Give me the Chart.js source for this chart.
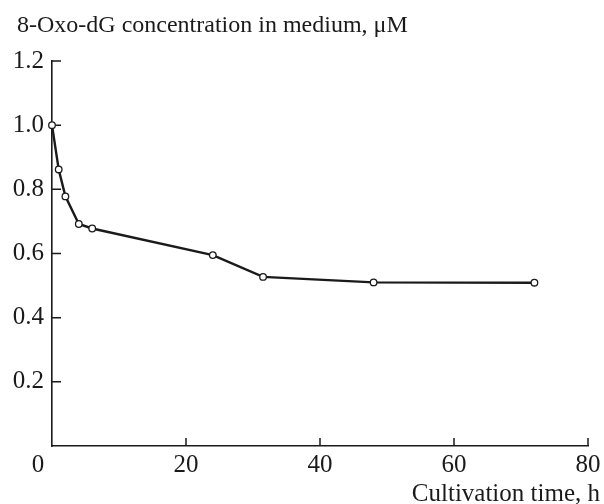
<!DOCTYPE html>
<html>
<head>
<meta charset="utf-8">
<title>8-Oxo-dG concentration</title>
<script src="https://cdn.jsdelivr.net/npm/chart.js@4.4.1/dist/chart.umd.min.js"></script>
<style>
    html, body { margin: 0; padding: 0; background: #fff; }
    .chart-wrap { position: relative; width: 604px; height: 504px; }
</style>
</head>
<body>
<div class="chart-wrap"><canvas id="oxoChart"></canvas></div>
<script>
// values
const timeHours = [0, 1, 2, 4, 6, 24, 31.5, 48, 72];
const oxoConc = [1.0, 0.862, 0.778, 0.692, 0.678, 0.595, 0.527, 0.51, 0.509];

const xTickValues = [0, 20, 40, 60, 80];
const yTickValues = [0, 0.2, 0.4, 0.6, 0.8, 1.0, 1.2];

const yAxisTitle = '8-Oxo-dG concentration in medium, \u03BCM';
const xAxisTitle = 'Cultivation time, h';

const INK = '#1a1a1a';
const FONT = "'Liberation Serif', 'Times New Roman', serif";

// inward tick marks, drawn under the points
const axisTicks = {
    id: 'axisTicks',
    beforeDatasetsDraw(chart) {
        const { ctx, chartArea, scales } = chart;
        ctx.save();
        ctx.strokeStyle = INK;
        ctx.lineWidth = 1.5;
        ctx.beginPath();
        yTickValues.forEach(v => {
            if (v === 0) return;
            const py = scales.y.getPixelForValue(v);
            ctx.moveTo(chartArea.left, py);
            ctx.lineTo(chartArea.left + 9, py);
        });
        xTickValues.forEach(v => {
            if (v === 0) return;
            const px = scales.x.getPixelForValue(v);
            ctx.moveTo(px, chartArea.bottom);
            ctx.lineTo(px, chartArea.bottom - 8);
        });
        ctx.stroke();
        ctx.restore();
    },
    afterDraw(chart) {
        const { ctx, chartArea, scales } = chart;
        ctx.save();
        ctx.fillStyle = INK;
        ctx.textBaseline = 'alphabetic';

        // x tick labels (the 0 sits left of the corner)
        ctx.font = `25px ${FONT}`;
        ctx.textAlign = 'center';
        xTickValues.forEach(v => {
            let px = scales.x.getPixelForValue(v);
            if (v === 0) px -= 14;
            ctx.fillText(String(v), px, chartArea.bottom + 26);
        });

        // axis titles
        ctx.textAlign = 'right';
        ctx.fillText(xAxisTitle, 600, 501);

        ctx.font = `24px ${FONT}`;
        ctx.textAlign = 'left';
        ctx.fillText(yAxisTitle, 17, 32);
        ctx.restore();
    }
};

const ctx = document.getElementById('oxoChart').getContext('2d');

new Chart(ctx, {
    type: 'scatter',
    data: {
        datasets: [{
            data: timeHours.map((t, i) => ({ x: t, y: oxoConc[i] })),
            showLine: true,
            borderColor: INK,
            borderWidth: 2.4,
            tension: 0,
            pointRadius: 3.3,
            pointBorderWidth: 1.3,
            pointBackgroundColor: '#fff',
            pointBorderColor: INK,
            clip: false
        }]
    },
    options: {
        responsive: true,
        maintainAspectRatio: false,
        animation: false,
        events: [],
        layout: {
            padding: { top: 61, right: 16, left: 0, bottom: 0 }
        },
        scales: {
            x: {
                type: 'linear',
                min: 0,
                max: 80,
                afterFit(scale) { scale.height = 58; },
                grid: { display: false, drawTicks: false },
                border: { display: true, color: INK, width: 1.6 },
                ticks: { display: false, stepSize: 20 }
            },
            y: {
                min: 0,
                max: 1.2,
                afterFit(scale) { scale.width = 52; },
                grid: { display: false, drawTicks: false },
                border: { display: true, color: INK, width: 1.6 },
                afterBuildTicks(scale) {
                    scale.ticks = yTickValues.map(v => ({ value: v }));
                },
                ticks: {
                    padding: 8,
                    color: INK,
                    font: { family: FONT, size: 25 },
                    callback: function(value) {
                        return value === 0 ? '' : value.toFixed(1);
                    }
                }
            }
        },
        plugins: {
            legend: { display: false },
            tooltip: { enabled: false }
        }
    },
    plugins: [axisTicks]
});
</script>
</body>
</html>
